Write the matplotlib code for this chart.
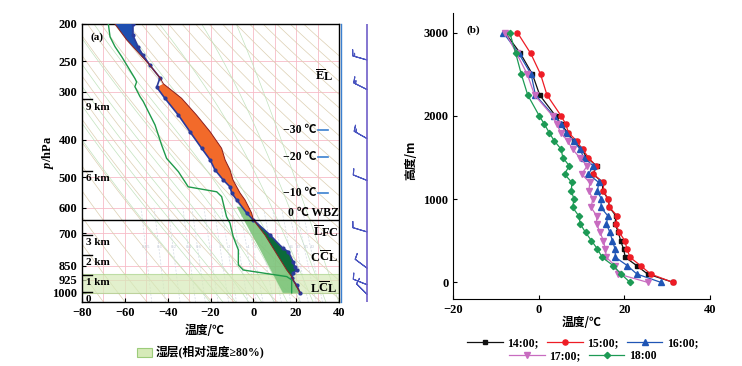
import numpy as np
import matplotlib.pyplot as plt
from matplotlib.patches import Patch
from matplotlib.ticker import NullLocator
import matplotlib.transforms as mtransforms

plt.rcParams['font.family'] = ['Liberation Serif', 'Noto Sans CJK SC']
plt.rcParams['font.weight'] = 'bold'
plt.rcParams['font.size'] = 9
plt.rcParams['mathtext.fontset'] = 'custom'
plt.rcParams['mathtext.rm'] = 'Liberation Serif:bold'
plt.rcParams['mathtext.bf'] = 'Liberation Serif:bold'
plt.rcParams['mathtext.it'] = 'Liberation Serif:bold:italic'

# ---------------- (a) 探空数据 ----------------
# 环境温度廓线
env_p = [200, 214, 229, 241, 256, 276, 292, 312, 345, 381, 421, 451, 479, 509, 530,
         550, 573, 620, 646, 707, 766, 781, 830, 855, 872, 889, 916, 954, 998]
env_t = [-56.2, -56.2, -53.9, -51.5, -48.3, -43.6, -45.1, -41.3, -35.0, -29.6, -24.1, -20.2, -17.9, -14.0, -10.9,
         -10.1, -7.8, -3.1, 0.0, 7.8, 13.8, 16.3, 18.6, 19.4, 20.2, 18.6, 17.9, 20.2, 21.8]
# 露点廓线
dew_p = [200, 216, 229, 243, 277, 283, 291, 309, 318, 366, 413, 447, 484, 530, 546,
         562, 634, 659, 714, 773, 846, 872, 907, 925, 1000]
dew_t = [-67.7, -66.9, -64.6, -61.5, -55.3, -54.5, -55.3, -52.9, -51.4, -45.9, -42.8, -40.5, -35.0, -30.4, -17.1,
         -14.8, -12.5, -10.9, -9.4, -7.0, -7.0, -4.7, 15.6, 17.9, 17.9]
# 气块上升曲线
parcel_p = [200, 220, 256, 276, 286, 312, 345, 381, 421, 451, 479, 509, 550, 573, 620, 646,
            707, 766, 830, 872, 907, 944, 1000]
parcel_t = [-64.6, -59.1, -48.3, -43.6, -42.0, -33.5, -26.5, -20.2, -14.8, -13.2, -10.9, -9.5, -6.2, -3.9, -0.8, 0.0,
            5.4, 9.3, 13.2, 15.6, 17.9, 19.4, 21.8]
# 浅绿色斜带
band_left_p = [597, 770, 1000]
band_left_t = [-7.8, 3.0, 13.8]
band_right_p = [597, 620, 646, 707, 766, 830, 872, 907, 944, 1000]
band_right_t = [-3.1, -0.8, 0.0, 5.4, 9.3, 13.2, 15.6, 17.9, 19.4, 21.8]

el_p = 256        # 平衡高度
cape_top_p = 285  # 正面积顶
zero_p = 646      # 0 ℃ 湿球温度层
wet_layer = (893, 998)

p_ticks = [200, 250, 300, 400, 500, 600, 700, 850, 925, 1000]
km_p = [314, 482, 707, 797, 898, 992]
km_labels = ['9 km', '6 km', '3 km', '2 km', '1 km', '0']
iso_labels = ['\u221230 \u2103', '\u221220 \u2103', '\u221210 \u2103']
iso_p = [377, 443, 551]

barb_p = [198, 248, 296, 397, 510, 694, 862, 952, 1008]
barb_u = [18, 14, 12, 14, 10, 10, 8, 10, 6]
barb_v = [0, -4, -6, -8, -4, -3, -6, -4, -6]

# ---------------- (b) 温度廓线 ----------------
heights = [0, 100, 200, 300, 400, 500, 600, 700, 800, 900, 1000, 1100, 1200, 1300,
           1400, 1500, 1600, 1700, 1800, 1900, 2000, 2250, 2500, 2750, 3000]
t_1400 = [31.4, 25.4, 22.9, 20.2, 19.8, 19.1, 18.6, 17.8, 18.0, 16.5, 16.2, 14.9, 14.9, 12.7,
          13.5, 11.2, 10.0, 8.1, 6.7, 5.2, 3.9, 0.2, -1.5, -4.3, -7.9]
t_1500 = [31.3, 26.1, 23.8, 21.3, 20.6, 20.1, 18.8, 18.0, 18.3, 16.5, 16.2, 15.1, 15.1, 12.7,
          13.3, 11.6, 10.2, 8.8, 6.9, 6.3, 5.2, 1.9, 0.4, -1.9, -5.0]
t_1600 = [28.5, 22.9, 20.7, 17.9, 17.8, 17.2, 16.6, 15.8, 16.1, 14.5, 14.6, 13.7, 14.0, 11.6,
          12.7, 10.5, 9.6, 8.1, 6.3, 5.2, 3.5, -0.8, -1.8, -4.7, -8.3]
t_1700 = [25.4, 18.6, 17.8, 15.8, 15.5, 15.1, 14.3, 13.5, 13.5, 12.2, 12.6, 11.7, 11.9, 10.0,
          11.3, 9.5, 7.9, 6.7, 5.1, 4.2, 3.2, -1.0, -2.7, -5.2, -7.8]
t_1800 = [21.3, 19.2, 17.4, 14.8, 13.7, 12.3, 10.9, 9.7, 9.3, 7.9, 8.2, 7.6, 7.7, 6.0,
          7.1, 5.6, 5.2, 3.6, 2.4, 1.3, 0.1, -2.6, -4.1, -5.4, -6.8]
series = [('14:00;', t_1400, '#111111', 's', 3.3),
          ('15:00;', t_1500, '#ee1c25', 'o', 3.7),
          ('16:00;', t_1600, '#1f55b5', '^', 4.0),
          ('17:00;', t_1700, '#c86cc0', 'v', 4.0),
          ('18:00', t_1800, '#1d9a55', 'D', 3.2)]

W, H = 742, 366
fig = plt.figure(figsize=(W / 100, H / 100), dpi=100)


def px_axes(x0, y0, x1, y1):
    return fig.add_axes([x0 / W, 1 - y1 / H, (x1 - x0) / W, (y1 - y0) / H])


# ================= 左图 =================
ax = px_axes(82, 24, 339, 302)
ax.set_yscale('log')
ax.set_ylim(1056, 200)
ax.set_xlim(-80, 40)

pink = '#f7bcc8'
for t in range(-80, 41, 10):
    ax.axvline(t, color=pink, lw=0.6, zorder=1)
for p in p_ticks[1:]:
    ax.axhline(p, color=pink, lw=0.6, zorder=1)

p_bg = np.linspace(1060, 195, 300)
# 干绝热线
for theta in range(200, 480, 10):
    ax.plot(theta * (p_bg / 1000) ** 0.286 - 273.15, p_bg, color='#dccfb2', lw=0.5, zorder=1)


# 湿绝热线
def moist(t0):
    T = t0 + 273.15
    out = [T]
    for i in range(1, len(p_bg)):
        pp = p_bg[i - 1]
        es = 6.112 * np.exp(17.67 * (T - 273.15) / (T - 29.65))
        rs = 0.622 * es / (pp - es)
        dTdp = (287.04 * T + 2.5e6 * rs) / (pp * (1005.7 + 2.5e6 ** 2 * rs * 0.622 / (287.04 * T * T)))
        T = T + dTdp * (p_bg[i] - pp)
        out.append(T)
    return np.array(out) - 273.15


for t0 in range(-20, 41, 6):
    ax.plot(moist(t0), p_bg, color='#c2e2bd', lw=0.5, zorder=1)

# 等饱和比湿线
p_mr = np.linspace(1060, 600, 50)
for w in [0.05, 0.1, 0.2, 0.4, 0.6, 1, 1.5, 2, 3, 4, 5, 7, 9, 12, 16, 20, 25, 30]:
    e = w * p_mr / (622 + w)
    lg = np.log(e / 6.112)
    td = 243.5 * lg / (17.67 - lg)
    ax.plot(td, p_mr, color='#d3dae4', lw=0.5, ls=(0, (3, 2)), zorder=1)
    ax.text(td[int(len(p_mr) * 0.55)], 760, f'{w:g}', fontsize=3.5, color='#c0c8d4',
            ha='center', va='center', fontweight='normal', zorder=1)

# 湿层
ax.axhspan(*wet_layer, facecolor='#d6eab8', edgecolor='#a9d28a', lw=0.8, alpha=0.7, zorder=2)

env_p_a, env_t_a = np.array(env_p), np.array(env_t)
par_p_a, par_t_a = np.array(parcel_p), np.array(parcel_t)

# 浅绿斜带
ax.fill(band_left_t + band_right_t[::-1], band_left_p + band_right_p[::-1],
        color='#7cc47a', lw=0, alpha=0.9, zorder=2)

# 负面积（顶部）
m1 = env_p_a <= el_p
m2 = par_p_a <= el_p
ax.fill(np.r_[env_t_a[m1], par_t_a[m2][::-1]], np.r_[env_p_a[m1], par_p_a[m2][::-1]],
        color='#1f4fb0', lw=0, zorder=3)
# 正面积
m1 = (env_p_a >= cape_top_p) & (env_p_a <= zero_p)
m2 = (par_p_a >= cape_top_p) & (par_p_a <= zero_p)
ax.fill(np.r_[env_t_a[m1], par_t_a[m2][::-1]], np.r_[env_p_a[m1], par_p_a[m2][::-1]],
        color='#f26a2a', lw=0, zorder=3)
# 低层
m1 = env_p_a >= zero_p
m2 = par_p_a >= zero_p
ax.fill(np.r_[env_t_a[m1], par_t_a[m2][::-1]], np.r_[env_p_a[m1], par_p_a[m2][::-1]],
        color='#0c6b3a', lw=0, zorder=3)

ax.plot(env_t, env_p, color='#2b3a9a', lw=1.2, marker='o', ms=2.0, zorder=5)
ax.plot(parcel_t, parcel_p, color='#8b1e1e', lw=0.7, zorder=5)
ax.plot(dew_t, dew_p, color='#1f9a4a', lw=1.0, zorder=5)
ax.axhline(zero_p, color='black', lw=1.0, zorder=6)

ax.set_yticks(p_ticks)
ax.set_yticklabels([str(p) for p in p_ticks])
ax.yaxis.set_minor_locator(NullLocator())
ax.set_xticks(range(-80, 41, 20))
ax.tick_params(direction='in', labelsize=9, length=3, width=0.8)
for s in ax.spines.values():
    s.set_linewidth(1.0)

trans = mtransforms.blended_transform_factory(ax.transAxes, ax.transData)
for p, lab in zip(km_p, km_labels):
    ax.plot([0, 0.04], [p, p], color='black', lw=1.0, transform=trans, zorder=7)
    ax.annotate(lab, xy=(0.015, p), xycoords=trans, xytext=(0, -5.5), textcoords='offset points',
                va='center', ha='left', fontsize=8, zorder=7)

for p, lab in zip(iso_p, iso_labels):
    ax.text(0.913, p, lab, transform=trans, ha='right', va='center', fontsize=8.5, zorder=7)
    ax.plot([0.918, 0.957], [p, p], color='#3b80d0', lw=1.2, transform=trans, zorder=7)

ax.text(0.942, 274, r'$\overline{\mathrm{E}}\mathrm{L}$', transform=trans, ha='center', va='center', fontsize=9)
ax.text(0.998, 621, '0 \u2103 WBZ', transform=trans, ha='right', va='center', fontsize=8.5)
ax.text(0.949, 697, r'$\overline{\mathrm{L}}\mathrm{FC}$', transform=trans, ha='center', va='center', fontsize=9)
ax.text(0.942, 811, r'$\mathrm{C}\overline{\mathrm{C}}\mathrm{L}$', transform=trans, ha='center', va='center', fontsize=9)
ax.text(0.940, 971, r'$\mathrm{L}\overline{\mathrm{C}}\mathrm{L}$', transform=trans, ha='center', va='center', fontsize=9)
ax.text(0.035, 0.97, '(a)', transform=ax.transAxes, ha='left', va='top', fontsize=8)

# 风羽
axb = px_axes(341, 24, 385, 302)
axb.set_yscale('log')
axb.set_ylim(1056, 200)
axb.set_xlim(0, 1)
axb.axvline(0.59, color='#6f5fc8', lw=1.2)
axb.barbs([0.59] * len(barb_p), barb_p, barb_u, barb_v, length=4.6, color='#4a55c0', lw=0.8)
axb.set_xticks([])
axb.set_yticks([])
axb.yaxis.set_minor_locator(NullLocator())
for k in ['top', 'right', 'bottom']:
    axb.spines[k].set_visible(False)
axb.spines['left'].set_color('#3b80d0')
axb.spines['left'].set_linewidth(1.0)
axb.patch.set_alpha(0)

fig.text(48 / W, 1 - 152 / H, r'$p$/hPa', rotation=90, ha='center', va='center', fontsize=9)
fig.text(205 / W, 1 - 331 / H, '温度/\u2103', ha='center', va='center', fontsize=8.5,
         family=['Noto Sans CJK SC'], fontweight='bold')
fig.legend(handles=[Patch(facecolor='#d6eab8', edgecolor='#9ccc7a', lw=0.8)],
           labels=['湿层(相对湿度\u226580%)'], loc='center left',
           bbox_to_anchor=(132 / W, 1 - 353 / H), frameon=False, handlelength=1.3,
           handleheight=0.7, handletextpad=0.3, borderaxespad=0,
           prop={'family': ['Liberation Serif', 'Noto Sans CJK SC'], 'weight': 'bold', 'size': 8.5})

# ================= 右图 =================
ax2 = px_axes(453.3, 13.3, 710, 299.3)
handles = []
for lab, vals, c, mk, ms in series:
    h, = ax2.plot(vals, heights, color=c, lw=0.9, marker=mk, ms=ms, label=lab)
    handles.append(h)
ax2.set_xlim(-20, 40)
ax2.set_ylim(-204, 3233)
ax2.set_xticks([-20, 0, 20, 40])
ax2.set_yticks([0, 1000, 2000, 3000])
ax2.spines['top'].set_visible(False)
ax2.spines['right'].set_visible(False)
ax2.tick_params(direction='in', labelsize=9, length=3, width=0.8)
ax2.text(0.05, 0.94, '(b)', transform=ax2.transAxes, ha='left', va='center', fontsize=8)

fig.text(411 / W, 1 - 160 / H, '高度/m', rotation=90, ha='center', va='center', fontsize=8.5,
         family=['Noto Sans CJK SC'], fontweight='bold')
fig.text(582 / W, 1 - 323 / H, '温度/\u2103', ha='center', va='center', fontsize=8.5,
         family=['Noto Sans CJK SC'], fontweight='bold')

leg_kw = dict(loc='center', frameon=False, handlelength=3.0, handletextpad=0.4,
              columnspacing=0.7, borderaxespad=0, borderpad=0, fontsize=8.5)
fig.legend(handles=handles[:3], labels=[s[0] for s in series[:3]], ncol=3,
           bbox_to_anchor=(583 / W, 1 - 343 / H), **leg_kw)
fig.legend(handles=handles[3:], labels=[s[0] for s in series[3:]], ncol=2,
           bbox_to_anchor=(583 / W, 1 - 356 / H), **leg_kw)

fig.savefig('out.png', dpi=100)
